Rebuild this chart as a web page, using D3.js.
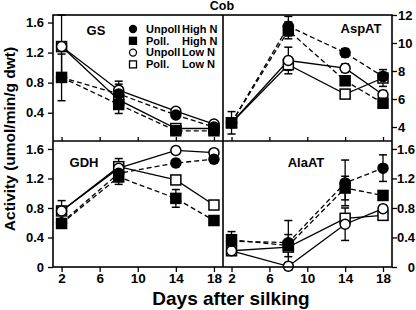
<!DOCTYPE html>
<html>
<head>
<meta charset="utf-8">
<script src="https://cdn.jsdelivr.net/npm/d3@7"></script>
<style>
body { margin: 0; background: #fff; }
text { font-family: Arial, "Liberation Sans", sans-serif; font-weight: bold; }
</style>
</head>
<body>
<div id="chart-area"></div>
<script>
// days after silking and x ticks
var days = [2, 8, 14, 18]
var dayTicks = [2, 6, 10, 14, 18]

// series order: Unpoll High N, Poll. High N, Unpoll Low N, Poll. Low N
var seriesNames = ["Unpoll", "Poll.", "Unpoll", "Poll."]
var seriesLevels = ["High N", "High N", "Low N", "Low N"]

var gsValues = [
    [0.87, 0.65, 0.37, 0.21],
    [0.87, 0.51, 0.16, 0.16],
    [1.28, 0.70, 0.42, 0.25],
    [1.28, 0.57, 0.19, 0.19]
]
var gsErrors = [
    [0, 0.17, 0.03, 0.02],
    [0.31, 0.12, 0.02, 0.02],
    [0.42, 0.08, 0.03, 0.02],
    [0.05, 0.06, 0.02, 0.02]
]

var aspValues = [
    [4.3, 11.2, 9.3, 7.6],
    [4.3, 10.9, 7.3, 5.7],
    [4.3, 8.75, 8.2, 6.3],
    [4.3, 8.45, 6.35, 7.5]
]
var aspErrors = [
    [0.3, 0.7, 0.3, 0.3],
    [0.8, 0.6, 0.3, 0.3],
    [0.3, 0.95, 0.3, 0.3],
    [0.3, 0.4, 0.3, 0.6]
]

var gdhValues = [
    [0.60, 1.27, 1.41, 1.46],
    [0.59, 1.22, 0.93, 0.63],
    [0.76, 1.34, 1.58, 1.55],
    [0.76, 1.36, 1.18, 0.84]
]
var gdhErrors = [
    [0.05, 0.08, 0.05, 0.05],
    [0.05, 0.10, 0.12, 0.05],
    [0.14, 0.13, 0.05, 0.04],
    [0.05, 0.05, 0.05, 0.05]
]

var alaValues = [
    [0.35, 0.33, 1.14, 1.34],
    [0.37, 0.29, 1.07, 0.97],
    [0.22, 0.01, 0.58, 0.79],
    [0.22, 0.27, 0.66, 0.70]
]
var alaErrors = [
    [0.05, 0.30, 0.31, 0.18],
    [0.11, 0.15, 0.16, 0.05],
    [0.05, 0.05, 0.22, 0.05],
    [0.05, 0.05, 0.05, 0.05]
]

var actTicks = [0.4, 0.8, 1.2, 1.6]
var actTicks0 = [0, 0.4, 0.8, 1.2, 1.6]
var aspTicks = [4, 6, 8, 10, 12]

var width = 416
var height = 310
var plotLeft = 53, midX = 223, plotRight = 392
var plotTop = 15, midY = 141, plotBottom = 267

var panels = [
    {name: "GS", values: gsValues, errors: gsErrors, col: 0, row: 0, domain: [0.024, 1.70], ticks: actTicks, lx: 96, ly: 35},
    {name: "AspAT", values: aspValues, errors: aspErrors, col: 1, row: 0, domain: [3, 12], ticks: aspTicks, lx: 361, ly: 33},
    {name: "GDH", values: gdhValues, errors: gdhErrors, col: 0, row: 1, domain: [0, 1.708], ticks: actTicks0, lx: 84, ly: 167},
    {name: "AlaAT", values: alaValues, errors: alaErrors, col: 1, row: 1, domain: [0, 1.708], ticks: actTicks0, lx: 306, ly: 167}
]

var svg = d3.select("#chart-area").append("svg")
.attr("width", width)
.attr("height", height)

var drawOrder = [3, 2, 0, 1]

panels.forEach(p => {
    var x = d3.scaleLinear()
    .domain([1.1, 18.95])
    .range(p.col == 0 ? [plotLeft, midX] : [midX, plotRight])

    var y = d3.scaleLinear()
    .domain(p.domain)
    .range(p.row == 0 ? [midY, plotTop] : [plotBottom, midY])

    var g = svg.append("g")

    // x ticks
    if (p.row == 0) {
        var xAxis = g.append("g")
        .attr("transform", "translate(0," + midY + ")")
        .call(d3.axisTop(x).tickValues(dayTicks).tickSize(4).tickSizeOuter(0).tickFormat(""))
        xAxis.select(".domain").remove()
        xAxis.selectAll("line").attr("stroke-width", 1.3)
    } else {
        var xAxis = g.append("g")
        .attr("transform", "translate(0," + plotBottom + ")")
        .call(d3.axisBottom(x).tickValues(dayTicks).tickSize(5).tickSizeOuter(0).tickPadding(1))
        xAxis.select(".domain").remove()
        xAxis.selectAll("line").attr("stroke-width", 1.3)
        xAxis.attr("font-size", 13.5).attr("font-family", null)
    }

    // y ticks
    var fmt = p.name == "AspAT" ? d3.format("d") : (d => d == 0 ? "0" : d3.format(".1f")(d))
    if (p.col == 0) {
        var yAxis = g.append("g")
        .attr("transform", "translate(" + plotLeft + ",0)")
        .call(d3.axisLeft(y).tickValues(p.ticks).tickSize(5).tickSizeOuter(0).tickPadding(4).tickFormat(fmt))
    } else {
        var yAxis = g.append("g")
        .attr("transform", "translate(" + plotRight + ",0)")
        .call(d3.axisRight(y).tickValues(p.ticks).tickSize(5).tickSizeOuter(0).tickPadding(1).tickFormat(fmt))
        if (p.row == 1) {
            yAxis.selectAll("text").attr("text-anchor", "end").attr("x", 23)
        }
    }
    yAxis.select(".domain").remove()
    yAxis.selectAll("line").attr("stroke-width", 1.3)
    yAxis.attr("font-size", 13).attr("font-family", null)

    // lines
    var line = d3.line()
    .x((d, i) => x(days[i]))
    .y(d => y(d))

    g.selectAll(".series-line").data(p.values).enter().append("path")
    .attr("class", "series-line")
    .attr("d", line)
    .attr("fill", "none")
    .attr("stroke", "black")
    .attr("stroke-width", 1.3)
    .attr("stroke-dasharray", (d, i) => i < 2 ? "5,3" : null)

    // error bars
    drawOrder.forEach(s => {
        p.values[s].forEach((v, i) => {
            var e = p.errors[s][i]
            if (!e) return
            var cx = x(days[i])
            g.append("line")
            .attr("x1", cx).attr("x2", cx)
            .attr("y1", y(v + e)).attr("y2", y(v - e))
            .attr("stroke", "black").attr("stroke-width", 1.3)
            ;[v + e, v - e].forEach(c => {
                g.append("line")
                .attr("x1", cx - 4).attr("x2", cx + 4)
                .attr("y1", y(c)).attr("y2", y(c))
                .attr("stroke", "black").attr("stroke-width", 1.5)
            })
        })
    })

    // markers
    drawOrder.forEach(s => {
        var filled = s < 2
        var circle = s % 2 == 0
        p.values[s].forEach((v, i) => {
            var cx = x(days[i]), cy = y(v)
            if (circle) {
                g.append("circle")
                .attr("cx", cx).attr("cy", cy).attr("r", 5)
                .attr("fill", filled ? "black" : "white")
                .attr("stroke", "black").attr("stroke-width", 1.5)
            } else {
                g.append("rect")
                .attr("x", cx - 5).attr("y", cy - 5)
                .attr("width", 10).attr("height", 10)
                .attr("fill", filled ? "black" : "white")
                .attr("stroke", "black").attr("stroke-width", 1.5)
            }
        })
    })

    g.append("text")
    .attr("x", p.lx)
    .attr("y", p.ly)
    .attr("text-anchor", "middle")
    .attr("font-size", "13px")
    .text(p.name)
})

// frame
svg.append("rect")
.attr("x", plotLeft).attr("y", plotTop)
.attr("width", plotRight - plotLeft).attr("height", plotBottom - plotTop)
.attr("fill", "none").attr("stroke", "black").attr("stroke-width", 1.6)

svg.append("line")
.attr("x1", midX).attr("x2", midX).attr("y1", plotTop).attr("y2", plotBottom)
.attr("stroke", "black").attr("stroke-width", 1.6)

svg.append("line")
.attr("x1", plotLeft).attr("x2", plotRight).attr("y1", midY).attr("y2", midY)
.attr("stroke", "black").attr("stroke-width", 1.6)

// legend
var legend = svg.append("g")
seriesNames.forEach((name, i) => {
    var cy = 29 + i * 11.8
    if (i % 2 == 0) {
        legend.append("circle")
        .attr("cx", 133).attr("cy", cy).attr("r", 3.5)
        .attr("fill", i < 2 ? "black" : "white")
        .attr("stroke", "black").attr("stroke-width", 1.3)
    } else {
        legend.append("rect")
        .attr("x", 129.5).attr("y", cy - 3.5).attr("width", 7).attr("height", 7)
        .attr("fill", i < 2 ? "black" : "white")
        .attr("stroke", "black").attr("stroke-width", 1.3)
    }
    legend.append("text")
    .attr("x", 146).attr("y", cy + 3.8)
    .attr("font-size", "11px")
    .text(name)
    legend.append("text")
    .attr("x", 182).attr("y", cy + 3.8)
    .attr("font-size", "11px")
    .text(seriesLevels[i])
})

// titles
svg.append("text")
.attr("x", 222).attr("y", 10)
.attr("text-anchor", "middle")
.attr("font-size", "12.5px")
.text("Cob")

svg.append("text")
.attr("x", 231).attr("y", 305)
.attr("text-anchor", "middle")
.attr("font-size", "19px")
.text("Days after silking")

svg.append("text")
.attr("transform", "rotate(-90)")
.attr("x", -139).attr("y", 15)
.attr("text-anchor", "middle")
.attr("font-size", "15.5px")
.text("Activity (umol/min/g dwt)")
</script>
</body>
</html>
